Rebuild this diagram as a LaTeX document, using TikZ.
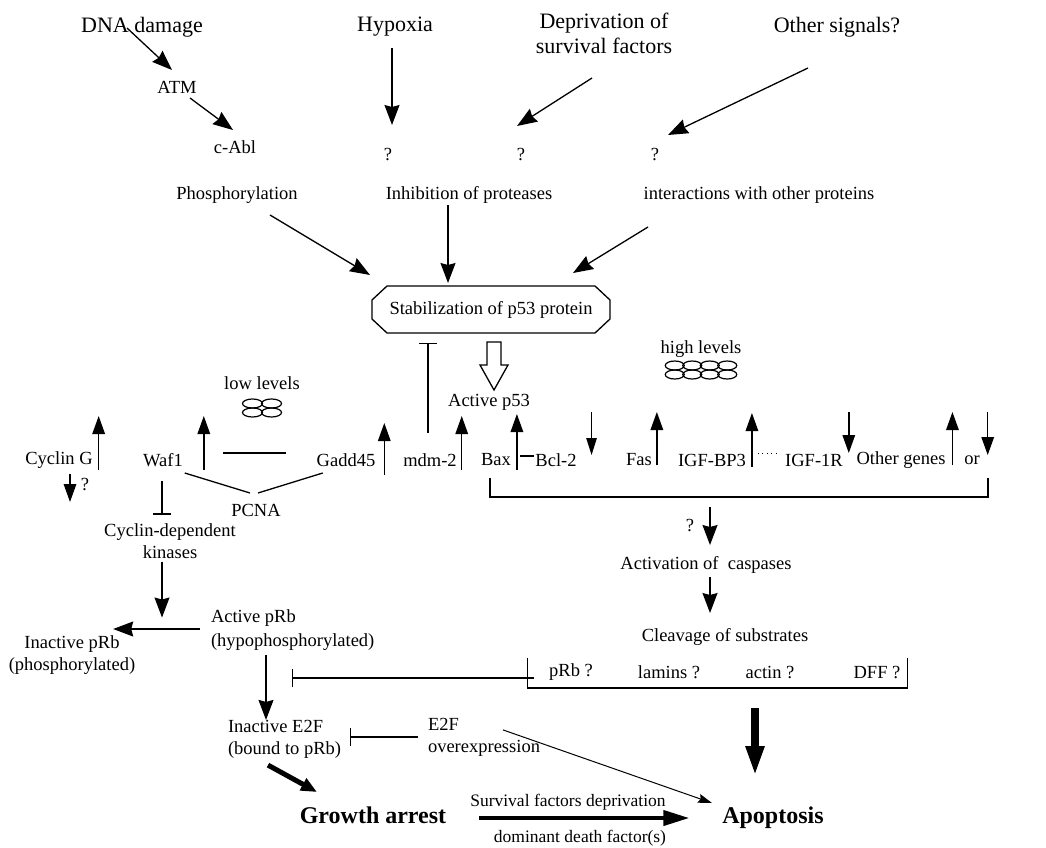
\documentclass[tikz,border=0pt]{standalone}
\usepackage{fontspec}
\setmainfont{Liberation Serif}
\usetikzlibrary{arrows.meta,calc}
\begin{document}
\begin{tikzpicture}[x=1pt,y=-1pt,
  every node/.style={inner sep=0pt, outer sep=0pt},
  body/.style={font=\fontsize{18.5}{22}\selectfont, align=center},
  headlbl/.style={font=\fontsize{22}{25}\selectfont, align=center},
  outcome/.style={font=\fontsize{24}{28}\selectfont\bfseries},
  smalllbl/.style={font=\fontsize{17.5}{20}\selectfont},
  ln/.style={line width=1.3pt},
  arr/.style={ln, -{Stealth[length=20pt,width=15pt,inset=2pt]}},
  genearr/.style={line width=1.5pt, -{Triangle[length=18pt,width=12.5pt]}},
  thinarr/.style={line width=1pt, -{Stealth[length=14pt,width=9pt,inset=2pt]}},
  slimarr/.style={line width=1.1pt, -{Triangle[length=17pt,width=10.5pt]}},
  tee/.style={ln, -{Bar[width=18pt,line width=1.3pt]}},
  oval/.style={line width=1.2pt}
]
\useasboundingbox (0,0) rectangle (1046,847);

% ---- signals ----
\node[headlbl] (dna) at (142,27) {DNA damage};
\node[headlbl] (hyp) at (395,27) {Hypoxia};
\node[headlbl] (depr) at (604,33) {Deprivation of\\survival factors};
\node[headlbl] (oth) at (837,27) {Other signals?};
\node[body] (atm) at (177,87) {ATM};
\node[body] (cabl) at (235,147) {c-Abl};
\node[body] (q1) at (388,155) {?};
\node[body] (q2) at (521,155) {?};
\node[body] (q3) at (655,155) {?};
\node[body] (phos) at (237,195) {Phosphorylation};
\node[body] (inhib) at (469,195) {Inhibition of proteases};
\node[body] (inter) at (759,195) {interactions with other proteins};

\draw[arr] ($(dna)+(-15,1)$) -- ($(atm)+(-5,-17)$);
\draw[arr] ($(atm)+(13,11)$) -- ($(cabl)+(-2,-17)$);
\draw[arr] ($(hyp)+(-3,21)$) -- ($(q1)+(4,-30)$);
\draw[arr] ($(depr)+(-12,45)$) -- ($(q2)+(-4,-29)$);
\draw[arr] ($(oth)+(-29,41)$) -- ($(q3)+(13,-20)$);

% ---- p53 stabilisation: octagonal box ----
\node[body, minimum width=238pt, minimum height=47pt] (stab) at (491,309.5) {Stabilization of p53 protein};
\draw[ln] ($(stab.north west)+(15,0)$) -- ($(stab.north east)+(-15,0)$)
  -- ($(stab.north east)+(0,14)$) -- ($(stab.south east)+(0,-14)$)
  -- ($(stab.south east)+(-15,0)$) -- ($(stab.south west)+(15,0)$)
  -- ($(stab.south west)+(0,-14)$) -- ($(stab.north west)+(0,14)$) -- cycle;

\draw[arr] ($(phos)+(33,20)$) -- ($(stab.north west)+(-2,-11)$);
\draw[arr] ($(inhib)+(-21,10)$) -- ($(stab.north)+(-43,-3)$);
\draw[arr] ($(inter)+(-111,32)$) -- ($(stab.north east)+(-37,-13)$);

\node[body] (ap53) at (489,402) {Active p53};
% hollow arrow from the box to active p53
\draw[ln, fill=white] ($(stab.south)+(-4,9)$) -- ++(14,0) -- ++(0,23) -- ++(7,0)
  -- ++(-14,25) -- ++(-14,-25) -- ++(7,0) -- cycle;

% ---- levels ----
\node[body] (lowl) at (262,383) {low levels};
\node[body] (highl) at (701,349) {high levels};
\foreach \dx in {-9.5,9.5} \foreach \dy in {-4.5,4.5}
  \draw[oval] ($(lowl)+(\dx,25+\dy)$) ellipse [x radius=10, y radius=4.5];
\foreach \dx in {-26.25,-8.75,8.75,26.25} \foreach \dy in {-4.5,4.5}
  \draw[oval] ($(highl)+(\dx,21+\dy)$) ellipse [x radius=9.5, y radius=4.5];

% ---- target genes ----
\node[body] (cycg) at (59,460) {Cyclin G};
\node[body] (waf) at (163,460) {Waf1};
\node[body] (gadd) at (346,460) {Gadd45};
\node[body] (mdm) at (430,460) {mdm-2};
\node[body] (bax) at (496,460) {Bax};
\node[body] (bcl) at (556,460) {Bcl-2};
\node[body] (fas) at (639,460) {Fas};
\node[body] (igfbp) at (712,460) {IGF-BP3};
\node[body] (igfr) at (814,460) {IGF-1R};
\node[body] (othg) at (901,460) {Other genes};
\node[body] (orl) at (972,460) {or};
\node[body] (cq) at (85,484) {?};
\node[body] (pcna) at (256,510) {PCNA};

\draw[genearr] ($(cycg.east)+(6,10)$) -- ++(0,-54);
\draw[genearr] ($(waf.east)+(21,10)$) -- ++(0,-54);
\draw[genearr] ($(gadd.east)+(9,15)$) -- ++(0,-52);
\draw[genearr] ($(mdm.east)+(5,10)$) -- ++(0,-54);
\draw[genearr] ($(bax.east)+(6,10)$) -- ++(0,-56);
\draw[slimarr] ($(bcl.east)+(15,-48)$) -- ++(0,43);
\draw[genearr] ($(fas.east)+(5,5)$) -- ++(0,-53);
\draw[genearr] ($(igfbp.east)+(6,7)$) -- ++(0,-54);
\draw[genearr] ($(igfr.east)+(6,-48)$) -- ++(0,41);
\draw[genearr] ($(othg.east)+(7,5)$) -- ++(0,-53);
\draw[genearr] ($(orl.east)+(8,-48)$) -- ++(0,43);
\draw[genearr] ($(cycg)+(11,14)$) -- ++(0,28);

\draw[ln] ($(waf.east)+(40,-7)$) -- ($(gadd.west)+(-31,-7)$);
\draw[ln] ($(bax.east)+(9,-4)$) -- ($(bcl.west)+(-1,-4)$);
\draw[line width=1pt, dash pattern=on 1pt off 3.5pt] ($(igfbp.east)+(12,-7)$) -- ($(igfr.west)+(-9,-7)$);
\draw[ln] ($(waf.east)+(2,13)$) -- ($(pcna)+(-6,-17)$);
\draw[ln] ($(gadd.west)+(6,13)$) -- ($(pcna)+(2,-17)$);
\draw[tee] ($(mdm)+(-2,-27)$) -- ($(stab.south)+(-63,10)$);

% bracket over the apoptotic genes
\draw[ln] ($(bax)+(-6,18)$) -- ++(0,19) -| ($(orl)+(16,18)$);
\coordinate (brk) at ($(bax)+(214,37)$);

% ---- growth-arrest branch ----
\node[body] (cdk) at (170,541) {Cyclin-dependent\\kinases};
\draw[tee] ($(waf)+(-1,21)$) -- ($(cdk.north)+(-8,-9)$);
\node[body, align=left, anchor=west, font=\fontsize{18.5}{24}\selectfont] (actprb) at (211,630) {Active pRb\\(hypophosphorylated)};
\node[body] (inactprb) at (72,655) {Inactive pRb\\(phosphorylated)};
\draw[arr] ($(cdk.south)+(-8,3)$) -- ++(0,56);
\draw[arr] ($(actprb.west)+(-11,-1)$) -- ($(inactprb.east)+(-22,-26)$);
\node[body, align=left, anchor=west] (ie2f) at (228,739) {Inactive E2F\\(bound to pRb)};
\draw[arr] ($(actprb.south west)+(55,5)$) -- ($(ie2f.north west)+(38,0)$);
\node[body, align=left, anchor=west] (e2f) at (428,737) {E2F\\overexpression};
\draw[tee] ($(e2f.west)+(-10,0)$) -- ($(ie2f.east)+(9,-2)$);

% ---- apoptotic branch ----
\node[body] (qc) at (690,525) {?};
\node[body] (actc) at (706,565) {Activation of\ \ caspases};
\node[body] (cleav) at (725,637) {Cleavage of substrates};
\draw[arr] ($(brk)+(0,10)$) -- ($(actc)+(4,-20)$);
\draw[arr] ($(actc)+(4,12)$) -- ($(cleav)+(-15,-24)$);

\node[body] (prbq) at (571,672) {pRb ?};
\node[body] (lamq) at (669,672) {lamins ?};
\node[body] (actq) at (770,672) {actin ?};
\node[body] (dffq) at (877,672) {DFF ?};
\draw[ln] ($(prbq.west)+(-22,-14)$) -- ++(0,30) -| ($(dffq.east)+(7,-14)$);
\coordinate (teeS) at ($(prbq.west)+(-15,6)$);
\draw[tee] (teeS) -- ($(teeS)+(-242,0)$);

% ---- outcomes ----
\node[outcome] (growth) at (373,815) {Growth arrest};
\node[outcome] (apop) at (773,818) {Apoptosis};
\node[smalllbl] (sfd) at (568,802) {Survival factors deprivation};
\node[smalllbl] (ddf) at (580,838) {dominant death factor(s)};

\draw[line width=5pt, -{Triangle[length=16pt,width=13pt]}] ($(ie2f.south west)+(40,7)$) -- ($(growth)+(-56,-23)$);
\draw[line width=4pt, -{Triangle[length=26pt,width=15pt]}] ($(growth.east)+(33,3)$) -- ($(apop.west)+(-33,0)$);
\draw[thinarr] ($(e2f.north west)+(75,12)$) -- ($(apop)+(-61,-15)$);
\draw[line width=8.5pt, -{Triangle[length=30pt,width=17pt]}] ($(apop.north)+(-18,-99)$) -- ($(apop.north)+(-18,-31)$);
\end{tikzpicture}
\end{document}
